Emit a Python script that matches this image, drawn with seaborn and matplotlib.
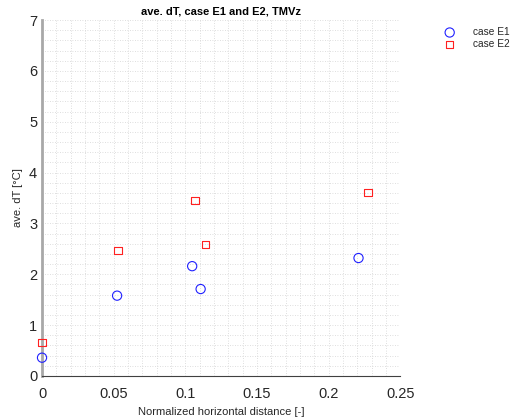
import matplotlib
matplotlib.use("Agg")
import matplotlib.pyplot as plt
import seaborn as sns
import pandas as pd

# Average temperature rise vs. normalized horizontal distance
e1_x = [0.0, 0.0524, 0.1048, 0.1107, 0.2209]
e1_dT = [0.36, 1.58, 2.16, 1.71, 2.32]
e2_x = [0.0, 0.0531, 0.1067, 0.1139, 0.2274]
e2_dT = [0.66, 2.47, 3.45, 2.59, 3.61]
series_names = ["case E1", "case E2"]
x_ticks = [0, 0.05, 0.1, 0.15, 0.2, 0.25]
x_tick_labels = ["0", "0.05", "0.1", "0.15", "0.2", "0.25"]
y_ticks = [0, 1, 2, 3, 4, 5, 6, 7]

sns.set_style("white")
plt.rcParams["font.family"] = ["Liberation Sans", "DejaVu Sans"]

df1 = pd.DataFrame({"x": e1_x, "y": e1_dT})
df2 = pd.DataFrame({"x": e2_x, "y": e2_dT})

fig = plt.figure(figsize=(5.15, 4.18), dpi=100)
ax = fig.add_axes([0.0816, 0.1005, 0.6955, 0.8515])

sns.scatterplot(data=df1, x="x", y="y", marker="o", s=44, fc="none",
                ec="#2020ff", linewidth=0.8, ax=ax, label=series_names[0],
                clip_on=False, zorder=3)
sns.scatterplot(data=df2, x="x", y="y", marker="s", s=28, fc="none",
                ec="#ff2020", linewidth=0.8, ax=ax, label=series_names[1],
                clip_on=False, zorder=3)

ax.set_xlim(0, 0.25)
ax.set_ylim(0, 7)
ax.set_xticks(x_ticks, x_tick_labels)
ax.set_xticks([i / 100 for i in range(26)], minor=True)
ax.set_yticks(y_ticks, [str(v) for v in y_ticks])
ax.set_yticks([i / 5 for i in range(36)], minor=True)

ax.grid(True, which="both", color="#d4d4d4", linestyle=(0, (1, 2)), linewidth=0.6)
ax.set_axisbelow(True)

for side in ["top", "right"]:
    ax.spines[side].set_visible(False)
ax.spines["left"].set_color("#a8a8a8")
ax.spines["left"].set_linewidth(2.0)
ax.spines["bottom"].set_color("#404040")
ax.spines["bottom"].set_linewidth(0.8)

ax.tick_params(axis="both", which="major", direction="in", length=4,
               width=0.6, color="#404040", labelsize=10.5, labelcolor="#262626")
ax.tick_params(axis="both", which="minor", length=0)
ax.tick_params(axis="x", pad=8)

ax.set_xlabel("Normalized horizontal distance [-]", fontsize=8, color="#262626")
ax.set_ylabel("ave. dT [°C]", fontsize=8, color="#262626")
ax.set_title("ave. dT, case E1 and E2, TMVz", fontsize=8, fontweight="bold",
             color="#000000", pad=4)

ax.legend(loc="upper left", bbox_to_anchor=(1.09, 1.0), frameon=False,
          fontsize=7.3, handletextpad=1.3, borderaxespad=0.3, labelspacing=0.2)

fig.savefig("out.png", dpi=100)
